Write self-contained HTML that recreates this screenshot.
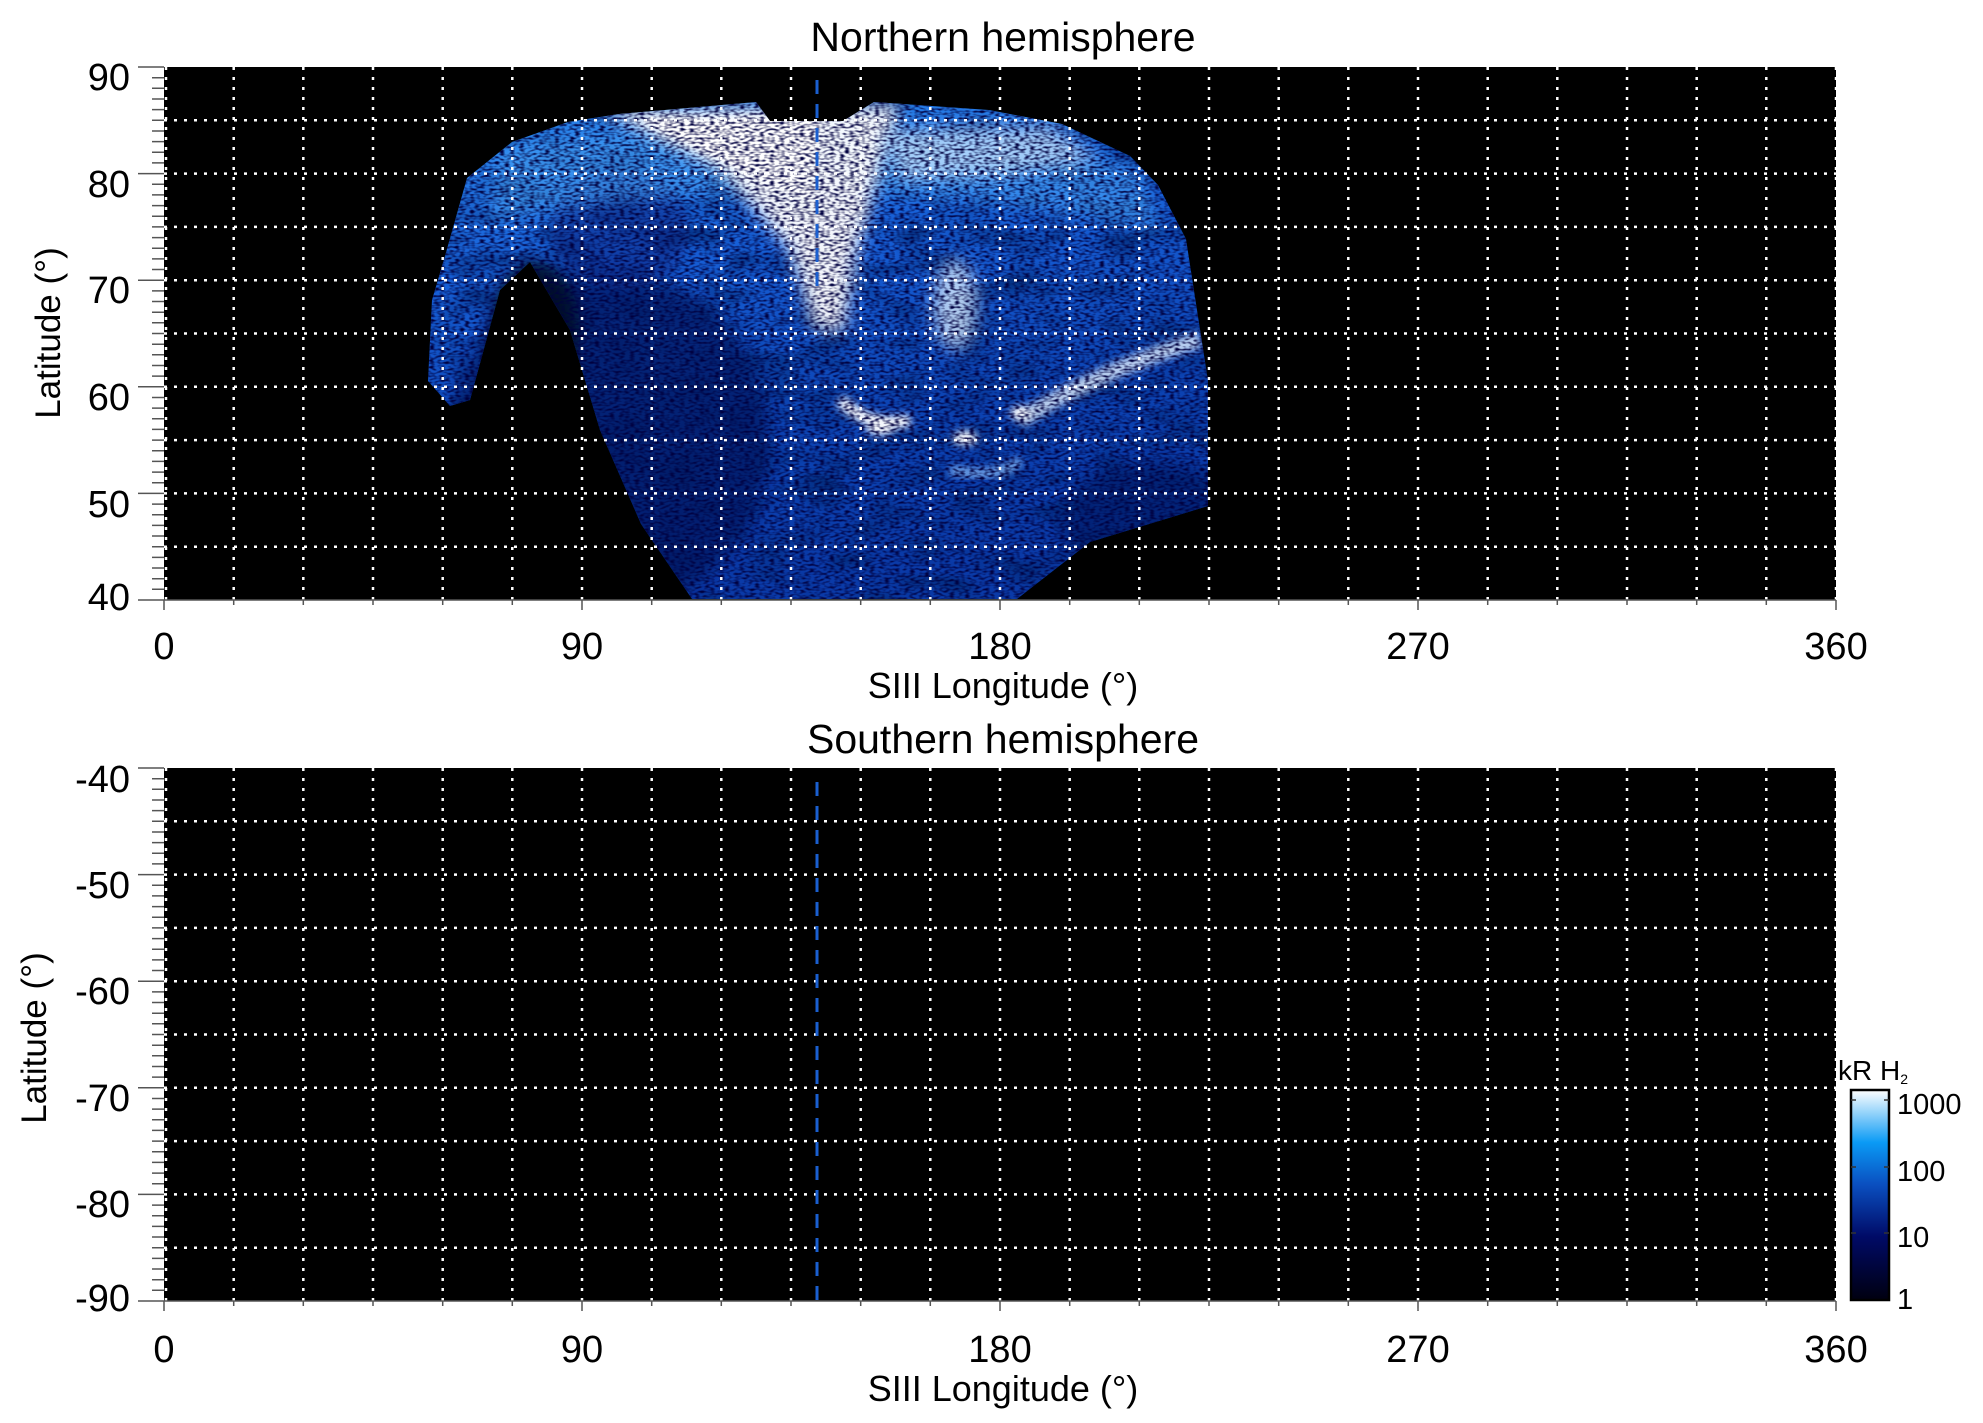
<!DOCTYPE html>
<html><head><meta charset="utf-8"><style>
html,body{margin:0;padding:0;background:#fff;}
svg{display:block;}
text{font-family:"Liberation Sans",sans-serif;fill:#000;}
</style></head><body>
<svg width="1983" height="1423" viewBox="0 0 1983 1423" xmlns="http://www.w3.org/2000/svg">
<defs>
 <linearGradient id="cb" x1="0" y1="1" x2="0" y2="0">
  <stop offset="0" stop-color="#000010"/>
  <stop offset="0.3" stop-color="#000a66"/>
  <stop offset="0.55" stop-color="#0a4fc0"/>
  <stop offset="0.75" stop-color="#0a9af5"/>
  <stop offset="1" stop-color="#ffffff"/>
 </linearGradient>
 <linearGradient id="base" x1="0" y1="0" x2="0.2" y2="1">
  <stop offset="0" stop-color="#2f8ef0"/>
  <stop offset="0.35" stop-color="#1760d8"/>
  <stop offset="0.7" stop-color="#0c44b4"/>
  <stop offset="1" stop-color="#0a3aa8"/>
 </linearGradient>
 <clipPath id="aur">
  <path d="M756,102 L770,121 L843,121 L874,102 L989,110 L1062,124 L1130,156 L1158,185 L1186,239 L1197,310 L1208,381 L1208,506 L1090,542 L1017,599 L692,599 L641,524 L600,430 L570,330 L530,262 L500,290 L470,400 L450,406 L428,381 L432,300 L445,256 L467,178 L512,142 L568,122 L619,114 Z"/>
 </clipPath>
 <filter id="blur8" x="-50%" y="-50%" width="200%" height="200%"><feGaussianBlur stdDeviation="8"/></filter>
 <filter id="blur4" x="-50%" y="-50%" width="200%" height="200%"><feGaussianBlur stdDeviation="4"/></filter>
 <filter id="speck" x="0" y="0" width="100%" height="100%">
  <feTurbulence type="fractalNoise" baseFrequency="0.2 0.45" numOctaves="1" seed="4"/>
  <feColorMatrix type="matrix" values="0 0 0 0 0  0 0 0 0 0  0 0 0 0 0.05  3 0 0 0 -1.25"/>
 </filter>
 <filter id="cloud" x="0" y="0" width="100%" height="100%">
  <feTurbulence type="fractalNoise" baseFrequency="0.02 0.04" numOctaves="2" seed="9"/>
  <feColorMatrix type="matrix" values="0 0 0 0 0  0 0 0 0 0.02  0 0 0 0 0.15  2.5 0 0 0 -1.1"/>
 </filter>
</defs>

<!-- TOP PLOT -->
<rect x="164" y="67" width="1672" height="533" fill="#000"/>
<g clip-path="url(#aur)">
 <rect x="420" y="95" width="800" height="510" fill="url(#base)"/>
 <rect x="420" y="95" width="800" height="510" filter="url(#cloud)" opacity="0.7"/>
 <ellipse cx="610" cy="440" rx="160" ry="170" fill="#03155e" opacity="0.75" filter="url(#blur8)"/>
 <ellipse cx="620" cy="230" rx="70" ry="60" fill="#072a8a" opacity="0.6" filter="url(#blur8)"/>
 <ellipse cx="535" cy="330" rx="45" ry="70" fill="#000820" opacity="0.9" filter="url(#blur8)"/>
 <ellipse cx="1150" cy="520" rx="90" ry="60" fill="#051c6a" opacity="0.75" filter="url(#blur8)"/>
 <path d="M500,150 Q820,90 1140,170 L1160,230 Q820,160 490,220 Z" fill="#4aa6f8" opacity="0.6" filter="url(#blur8)"/>
 <path d="M600,110 L900,105 L880,170 L855,260 L845,330 L815,330 L790,250 L720,170 Z" fill="#ffffff" opacity="0.95" filter="url(#blur8)"/>
 <path d="M640,120 L820,115 L810,200 L760,180 Z" fill="#ffffff" filter="url(#blur4)"/>
 <path d="M880,130 L1050,125 L1100,160 L1000,175 L900,180 Z" fill="#bfe0ff" opacity="0.8" filter="url(#blur8)"/>
 <ellipse cx="955" cy="305" rx="22" ry="45" fill="#d8ecff" opacity="0.8" filter="url(#blur8)"/>
 <path d="M1020,420 Q1100,370 1200,340" stroke="#e6f3ff" stroke-width="16" fill="none" opacity="0.8" filter="url(#blur4)"/>
 <path d="M840,400 Q870,430 910,420" stroke="#ffffff" stroke-width="12" fill="none" filter="url(#blur4)"/>
 <ellipse cx="880" cy="428" rx="14" ry="7" fill="#fff" filter="url(#blur4)"/>
 <ellipse cx="965" cy="438" rx="12" ry="7" fill="#fff" filter="url(#blur4)"/>
 <ellipse cx="1020" cy="413" rx="10" ry="7" fill="#fff" filter="url(#blur4)"/>
 <path d="M950,470 Q1000,480 1020,460" stroke="#9fd0ff" stroke-width="10" fill="none" opacity="0.7" filter="url(#blur4)"/>
 <rect x="420" y="95" width="800" height="510" filter="url(#speck)"/>
</g>

<g stroke="#fff" stroke-width="2.5" stroke-dasharray="3 7" fill="none">
 <path d="M233.7,67V600M303.3,67V600M373,67V600M442.7,67V600M512.3,67V600M582,67V600M651.7,67V600M721.3,67V600M791,67V600M860.7,67V600M930.3,67V600M1000,67V600M1069.7,67V600M1139.3,67V600M1209,67V600M1278.7,67V600M1348.3,67V600M1418,67V600M1487.7,67V600M1557.3,67V600M1627,67V600M1696.7,67V600M1766.3,67V600M1836,67V600M166,67V600"/>
 <path d="M164,120.3H1836M164,173.6H1836M164,226.9H1836M164,280.2H1836M164,333.5H1836M164,386.8H1836M164,440.1H1836M164,493.4H1836M164,546.7H1836"/>
</g>
<line x1="817" y1="80" x2="817" y2="292" stroke="#1a5fd0" stroke-width="3" stroke-dasharray="14 10"/>

<!-- BOTTOM PLOT -->
<rect x="164" y="768" width="1672" height="533" fill="#000"/>
<g stroke="#fff" stroke-width="2.5" stroke-dasharray="3 7" fill="none">
 <path d="M233.7,768V1301M303.3,768V1301M373,768V1301M442.7,768V1301M512.3,768V1301M582,768V1301M651.7,768V1301M721.3,768V1301M791,768V1301M860.7,768V1301M930.3,768V1301M1000,768V1301M1069.7,768V1301M1139.3,768V1301M1209,768V1301M1278.7,768V1301M1348.3,768V1301M1418,768V1301M1487.7,768V1301M1557.3,768V1301M1627,768V1301M1696.7,768V1301M1766.3,768V1301M1836,768V1301M166,768V1301"/>
 <path d="M164,821.3H1836M164,874.6H1836M164,927.9H1836M164,981.2H1836M164,1034.5H1836M164,1087.8H1836M164,1141.1H1836M164,1194.4H1836M164,1247.7H1836"/>
</g>
<line x1="817" y1="782" x2="817" y2="1301" stroke="#1a5fd0" stroke-width="3" stroke-dasharray="14 10"/>

<g stroke="#555" stroke-width="1.6" fill="none">
 <path d="M164,600H1836M164,1301H1836"/>
</g>

<!-- labels -->
<g font-size="38" text-anchor="end">
 <text x="130" y="90">90</text><text x="130" y="197">80</text><text x="130" y="303">70</text><text x="130" y="410">60</text><text x="130" y="517">50</text><text x="130" y="610">40</text>
 <text x="130" y="792">-40</text><text x="130" y="898">-50</text><text x="130" y="1004">-60</text><text x="130" y="1111">-70</text><text x="130" y="1217">-80</text><text x="130" y="1311">-90</text>
</g>
<g font-size="38" text-anchor="middle">
 <text x="164" y="659">0</text><text x="582" y="659">90</text><text x="1000" y="659">180</text><text x="1418" y="659">270</text><text x="1836" y="659">360</text>
 <text x="164" y="1362">0</text><text x="582" y="1362">90</text><text x="1000" y="1362">180</text><text x="1418" y="1362">270</text><text x="1836" y="1362">360</text>
 <text x="1003" y="698" font-size="36">SIII Longitude (°)</text>
 <text x="1003" y="1401" font-size="36">SIII Longitude (°)</text>
 <text x="1003" y="51" font-size="41">Northern hemisphere</text>
 <text x="1003" y="753" font-size="41">Southern hemisphere</text>
 <text transform="translate(60,333) rotate(-90)" font-size="35">Latitude (°)</text>
 <text transform="translate(46,1038) rotate(-90)" font-size="35">Latitude (°)</text>
</g>

<!-- colorbar -->
<rect x="1851" y="1090" width="38" height="210" fill="url(#cb)" stroke="#000" stroke-width="2.5"/>
<g stroke="#333" stroke-width="1.5">
 <path d="M1851,1100h5M1851,1167h5M1851,1233h5M1889,1100h-5M1889,1167h-5M1889,1233h-5"/>
</g>
<g font-size="29">
 <text x="1897" y="1114">1000</text><text x="1897" y="1181">100</text><text x="1897" y="1247">10</text><text x="1897" y="1309">1</text>
 <text x="1838" y="1080" font-size="28">kR H<tspan font-size="14" dy="4">2</tspan></text>
</g>

<g stroke="#555" stroke-width="1.5">
 <path d="M138,67H164M138,173.6H164M138,280.2H164M138,386.8H164M138,493.4H164M138,600H164M138,768H164M138,874.6H164M138,981.2H164M138,1087.8H164M138,1194.4H164M138,1301H164"/>
 <path d="M152,77.7H164M152,88.3H164M152,99H164M152,109.6H164M152,120.3H164M152,131H164M152,141.6H164M152,152.3H164M152,162.9H164M152,184.3H164M152,194.9H164M152,205.6H164M152,216.2H164M152,226.9H164M152,237.6H164M152,248.2H164M152,258.9H164M152,269.5H164M152,290.9H164M152,301.5H164M152,312.2H164M152,322.8H164M152,333.5H164M152,344.2H164M152,354.8H164M152,365.5H164M152,376.1H164M152,397.5H164M152,408.1H164M152,418.8H164M152,429.4H164M152,440.1H164M152,450.8H164M152,461.4H164M152,472.1H164M152,482.7H164M152,504.1H164M152,514.7H164M152,525.4H164M152,536H164M152,546.7H164M152,557.4H164M152,568H164M152,578.7H164M152,589.3H164"/>
 <path d="M152,778.7H164M152,789.3H164M152,800H164M152,810.6H164M152,821.3H164M152,832H164M152,842.6H164M152,853.3H164M152,863.9H164M152,885.3H164M152,895.9H164M152,906.6H164M152,917.2H164M152,927.9H164M152,938.6H164M152,949.2H164M152,959.9H164M152,970.5H164M152,991.9H164M152,1002.5H164M152,1013.2H164M152,1023.8H164M152,1034.5H164M152,1045.2H164M152,1055.8H164M152,1066.5H164M152,1077.1H164M152,1098.5H164M152,1109.1H164M152,1119.8H164M152,1130.4H164M152,1141.1H164M152,1151.8H164M152,1162.4H164M152,1173.1H164M152,1183.7H164M152,1205.1H164M152,1215.7H164M152,1226.4H164M152,1237H164M152,1247.7H164M152,1258.4H164M152,1269H164M152,1279.7H164M152,1290.3H164"/>
 <path d="M164,600v10M582,600v10M1000,600v10M1418,600v10M1836,600v10M164,1301v10M582,1301v10M1000,1301v10M1418,1301v10M1836,1301v10"/>
 <path d="M233.7,600v5M303.3,600v5M373,600v5M442.7,600v5M512.3,600v5M651.7,600v5M721.3,600v5M791,600v5M860.7,600v5M930.3,600v5M1069.7,600v5M1139.3,600v5M1209,600v5M1278.7,600v5M1348.3,600v5M1487.7,600v5M1557.3,600v5M1627,600v5M1696.7,600v5M1766.3,600v5"/>
 <path d="M233.7,1301v5M303.3,1301v5M373,1301v5M442.7,1301v5M512.3,1301v5M651.7,1301v5M721.3,1301v5M791,1301v5M860.7,1301v5M930.3,1301v5M1069.7,1301v5M1139.3,1301v5M1209,1301v5M1278.7,1301v5M1348.3,1301v5M1487.7,1301v5M1557.3,1301v5M1627,1301v5M1696.7,1301v5M1766.3,1301v5"/>
</g>
</svg>
</body></html>
